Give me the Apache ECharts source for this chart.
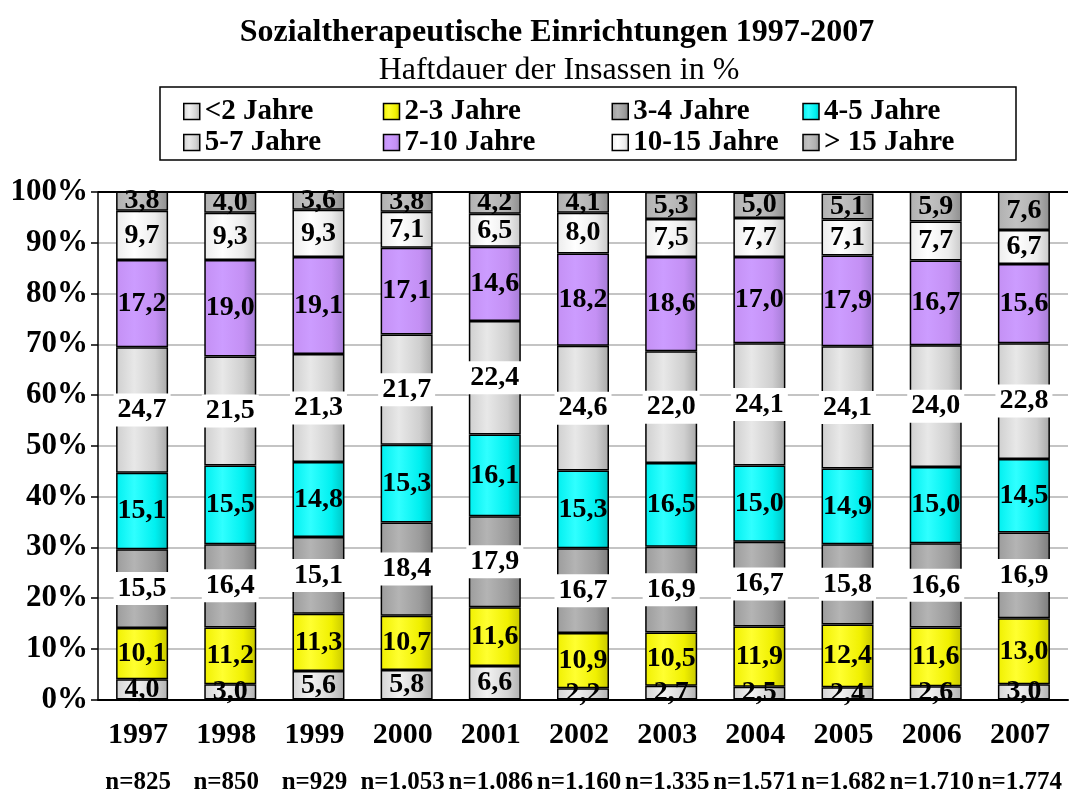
<!DOCTYPE html>
<html>
<head>
<meta charset="utf-8">
<script src="https://cdn.jsdelivr.net/npm/echarts@6/dist/echarts.min.js"></script>
<style>html,body{margin:0;padding:0;background:#fff}#c{width:1071px;height:795px}</style>
</head>
<body>
<div id="c"></div>
<script>
var years = ['1997','1998','1999','2000','2001','2002','2003','2004','2005','2006','2007'];
var nLabels = ['n=825','n=850','n=929','n=1.053','n=1.086','n=1.160','n=1.335','n=1.571','n=1.682','n=1.710','n=1.774'];
var seriesNames = ['<2 Jahre','2-3 Jahre','3-4 Jahre','4-5 Jahre','5-7 Jahre','7-10 Jahre','10-15 Jahre','> 15 Jahre'];
var lt2   = [4.0, 3.0, 5.6, 5.8, 6.6, 2.2, 2.7, 2.5, 2.4, 2.6, 3.0];
var y2_3  = [10.1, 11.2, 11.3, 10.7, 11.6, 10.9, 10.5, 11.9, 12.4, 11.6, 13.0];
var y3_4  = [15.5, 16.4, 15.1, 18.4, 17.9, 16.7, 16.9, 16.7, 15.8, 16.6, 16.9];
var y4_5  = [15.1, 15.5, 14.8, 15.3, 16.1, 15.3, 16.5, 15.0, 14.9, 15.0, 14.5];
var y5_7  = [24.7, 21.5, 21.3, 21.7, 22.4, 24.6, 22.0, 24.1, 24.1, 24.0, 22.8];
var y7_10 = [17.2, 19.0, 19.1, 17.1, 14.6, 18.2, 18.6, 17.0, 17.9, 16.7, 15.6];
var y10_15= [9.7, 9.3, 9.3, 7.1, 6.5, 8.0, 7.5, 7.7, 7.1, 7.7, 6.7];
var gt15  = [3.8, 4.0, 3.6, 3.8, 4.2, 4.1, 5.3, 5.0, 5.1, 5.9, 7.6];
var yTicks = [0, 10, 20, 30, 40, 50, 60, 70, 80, 90, 100];

var allData = [lt2, y2_3, y3_4, y4_5, y5_7, y7_10, y10_15, gt15];
var palette = [
  ['#d4d4d4','#f2f2f2','#b0b0b0'],
  ['#f0f000','#ffff30','#c8c800'],
  ['#9c9c9c','#b4b4b4','#7c7c7c'],
  ['#00f0f0','#30ffff','#00c4c4'],
  ['#cfcfcf','#e8e8e8','#a8a8a8'],
  ['#c490f4','#cc9cff','#a47cd4'],
  ['#ececec','#ffffff','#c8c8c8'],
  ['#b0b0b0','#c2c2c2','#8e8e8e']
];
var whiteBg = [false,false,true,false,true,false,false,false];
var FONT = '"Liberation Serif","Times New Roman",serif';

function grad(p){
  return new echarts.graphic.LinearGradient(0,0,1,0,[
    {offset:0,color:p[0]},{offset:0.35,color:p[1]},{offset:0.75,color:p[0]},{offset:1,color:p[2]}
  ]);
}

var series = seriesNames.map(function(name, i){
  return {
    name: name,
    type: 'bar',
    stack: 'total',
    barWidth: 52,
    data: allData[i],
    itemStyle: { color: grad(palette[i]), borderColor: '#000', borderWidth: 1.5 },
    label: {
      show: true,
      position: 'inside',
      color: '#000',
      fontFamily: FONT,
      fontWeight: 'bold',
      fontSize: 28,
      backgroundColor: whiteBg[i] ? '#fff' : 'transparent',
      padding: whiteBg[i] ? [4,4,1,4] : 0,
      formatter: function(p){ return p.value.toFixed(1).replace('.', ','); }
    }
  };
});

var colW = {'<2 Jahre':'c1','5-7 Jahre':'c1','2-3 Jahre':'c2','7-10 Jahre':'c2','3-4 Jahre':'c3','10-15 Jahre':'c3','4-5 Jahre':'c4','> 15 Jahre':'c4'};
var legRich = {};
[['c1',176],['c2',205],['c3',167],['c4',170]].forEach(function(a){
  legRich[a[0]] = {width:a[1], fontFamily:FONT, fontWeight:'bold', fontSize:29, lineHeight:26, color:'#000'};
});

var splitColors = yTicks.map(function(v){ return v === 100 ? '#000' : '#c4c4c4'; });

var chart = echarts.init(document.getElementById('c'));
chart.setOption({
  animation: false,
  backgroundColor: '#fff',
  title: [
    { text: 'Sozialtherapeutische Einrichtungen 1997-2007', left: 552, top: 12, textAlign: 'center',
      textStyle: { fontFamily: FONT, fontWeight: 'bold', fontSize: 32, color: '#000' } },
    { text: 'Haftdauer der Insassen in %', left: 554, top: 50, textAlign: 'center',
      textStyle: { fontFamily: FONT, fontWeight: 'normal', fontSize: 32, color: '#000' } }
  ],
  legend: {
    data: seriesNames,
    left: 160, top: 87, width: 815,
    orient: 'horizontal',
    padding: [10, 22, 3, 23],
    itemGap: 2,
    itemWidth: 16, itemHeight: 16,
    icon: 'rect',
    borderColor: '#000', borderWidth: 1.5,
    itemStyle: { borderColor: '#000', borderWidth: 1.5 },
    selectedMode: false,
    formatter: function(name){ return '{' + colW[name] + '|' + name + '}'; },
    textStyle: { rich: legRich, fontFamily: FONT, fontWeight: 'bold', fontSize: 29, color: '#000' }
  },
  grid: { left: 98, right: 3, top: 192, bottom: 93, containLabel: false },
  xAxis: {
    type: 'category',
    data: years,
    axisLine: { show: true, lineStyle: { color: '#000', width: 2 } },
    axisTick: { show: false },
    axisLabel: {
      interval: 0,
      margin: 16,
      padding: [0, 8, 0, 0],
      formatter: function(v, idx){ return '{y|' + v + '}\n{n|' + nLabels[idx] + '}'; },
      rich: {
        y: { fontFamily: FONT, fontWeight: 'bold', fontSize: 30, lineHeight: 40, color: '#000' },
        n: { fontFamily: FONT, fontWeight: 'bold', fontSize: 25, lineHeight: 54, color: '#000' }
      }
    }
  },
  yAxis: {
    type: 'value',
    min: 0, max: 100, interval: 10,
    axisLine: { show: true, lineStyle: { color: '#000', width: 1.5 } },
    axisTick: { show: true, length: 7, lineStyle: { color: '#000', width: 1.5 } },
    splitLine: { show: true, lineStyle: { color: splitColors, width: 2 } },
    axisLabel: {
      margin: 10,
      padding: [10, 0, 0, 0],
      formatter: '{value}%',
      fontFamily: FONT, fontWeight: 'bold', fontSize: 31, color: '#000'
    }
  },
  series: series
});
</script>
</body>
</html>
